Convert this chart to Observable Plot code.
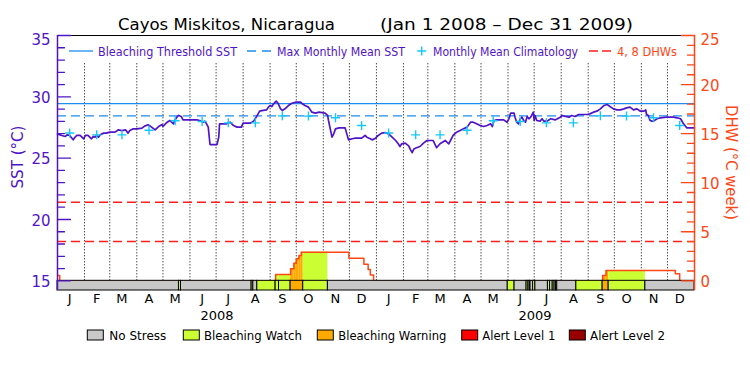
<!DOCTYPE html>
<html><head><meta charset="utf-8">
<script src="https://cdn.jsdelivr.net/npm/d3@7"></script>
<script src="https://cdn.jsdelivr.net/npm/@observablehq/plot@0.6"></script>
<style>body{margin:0;background:#fff} svg{display:block}</style>
</head><body><div id="chart"></div>
<script>
// ---- data (days since 2008-01-01) ----
const sstDays = [0,3,5,9,11,14,18,20,22,26,30,32,35,39,41,43,45,47,49,53,56,60,66,70,74,78,81,83,87,91,97,100,104,108,112,116,120,121,125,129,131,133,135,137,139,142,144,152,160,163,167,169,171,173,175,183,185,186,190,194,198,202,206,211,213,221,225,228,232,236,240,242,244,246,248,251,253,256,258,261,265,269,273,279,281,284,288,292,296,300,307,310,311,313,315,317,319,323,330,332,334,338,342,349,353,355,359,361,365,368,372,376,380,384,388,391,393,395,399,403,405,407,409,412,416,420,424,431,435,439,445,449,451,454,458,462,466,470,474,477,481,485,489,493,497,499,501,504,512,516,518,520,524,525,527,529,531,533,535,537,539,541,543,545,546,547,548,550,554,556,558,562,566,571,577,579,583,587,590,594,598,608,611,615,619,623,627,631,634,638,642,646,650,653,657,661,665,669,673,675,676,678,680,682,684,688,692,699,707,711,715,718,722,731];
const sstValues = [26.95,26.9,26.85,26.77,26.9,26.85,26.5,26.7,26.85,26.85,26.58,26.85,26.85,26.58,26.77,26.71,26.85,26.71,26.9,27.04,27.04,27.12,27.12,27.31,27.25,27.31,27.04,27.25,27.39,27.39,27.45,27.61,27.72,27.53,27.31,27.58,27.74,27.58,27.88,28.07,27.93,27.8,28.12,28.34,28.48,28.4,28.12,28.12,28.12,28.07,27.93,28.02,27.8,27.53,26.11,26.11,26.71,27.8,27.8,27.8,27.93,27.66,27.53,27.53,27.85,27.85,28.02,28.34,28.83,28.89,28.94,29.16,29.29,29.21,29.43,29.65,29.48,29.02,28.89,29.02,29.29,29.48,29.56,29.56,29.43,29.29,29.16,28.75,28.67,28.75,28.67,28.48,28.07,27.39,26.71,26.98,27.39,27.47,27.47,26.98,26.49,26.58,26.63,26.63,26.85,26.71,26.58,26.49,26.63,26.85,27.04,27.08,26.98,26.71,26.44,26.17,25.95,26.17,26.22,26.0,25.7,25.45,25.75,25.85,25.95,26.22,26.44,26.44,25.85,26.17,26.44,26.17,26.44,26.85,27.12,27.25,27.39,27.53,27.93,27.93,27.8,27.66,27.58,27.66,27.8,27.58,28.07,28.12,28.12,27.93,28.21,28.67,28.67,28.34,27.93,27.8,28.21,28.34,28.07,27.93,28.4,28.21,28.34,28.61,28.75,28.07,28.48,28.07,28.02,28.21,28.02,28.02,28.21,28.12,28.34,28.48,28.4,28.34,28.48,28.4,28.56,28.56,28.61,28.75,28.83,29.02,29.29,29.37,29.21,29.02,28.94,28.94,29.02,29.1,29.16,28.94,29.02,28.83,28.83,28.94,28.56,28.48,28.07,28.02,28.02,28.21,28.29,28.34,28.34,28.29,28.21,27.85,27.47,27.47];

const climValues = [27.05,26.9,26.9,27.28,28.05,27.99,27.88,27.88,28.45,28.43,28.3,27.66];
const years = [2008, 2009];
const monthLetters = ["J","F","M","A","M","J","J","A","S","O","N","D"];
const mmm = 28.45;
const threshold = 29.45;
const dhwRefLevels = [4, 8];

const dhwDays   = [0,   2.6, 250.3, 267.5, 271.3, 274,  277.1, 279.8, 334.4, 351.6, 356.5, 359, 362.7, 625.6, 629.5, 709,  714, 731];
const dhwValues = [0.54, 0,  0.64,  1.22,  1.8,   2.24, 2.58,  2.92,  2.3,   1.7,   1.15,  0.6, 0,     0.54,  1.05,  0.71, 0,   0];

const stressStart = [0,139.4,141.7,222.8,224.7,229.3,250.3,254.2,267.5,282,310.3,516.7,524.5,538.3,540.4,542,542.8,545.8,548.4,562.8,565.2,568.3,570.4,572,573.5,595.4,625.6,632.5,674.6];
const stressEnd   = [139.4,141.7,222.8,224.7,229.3,250.3,254.2,267.5,282,310.3,516.7,524.5,538.3,540.4,542,542.8,545.8,548.4,562.8,565.2,568.3,570.4,572,573.5,595.4,625.6,632.5,674.6,731];
const stressLevel = ["none","watch","none","watch","none","watch","watch","watch","warning","watch","none","watch","none","watch","none","watch","none","watch","none","watch","none","watch","none","watch","none","watch","warning","watch","none"];

const stressNames = ["No Stress","Bleaching Watch","Bleaching Warning","Alert Level 1","Alert Level 2"];
const stressKeys  = ["none","watch","warning","alert1","alert2"];
const stressColors = {none:"#c8c8c8", watch:"#ccff33", warning:"#ffaa00", alert1:"#ff0000", alert2:"#990000"};

const sstTicks = d3.range(15, 36);
const sstMajor = [15,20,25,30,35];
const dhwTicks = d3.range(0, 26);
const dhwMajor = [0,5,10,15,20,25];

// ---- helpers ----
const T0 = Date.UTC(2008,0,1);
const toDate = d => new Date(T0 + d*86400000);
const dhwToY = v => 15 + v*0.8;   // DHW axis 0..25 shares pixels with SST 15..35
const yMin = 14.21;

const purple = "#5014c8", blue = "#1e8cf0", cyan = "#14c8ff", orange = "#ff4614", red = "#ff1e1e";

const sst = sstDays.map((d,i) => ({date: toDate(d), v: sstValues[i]}));
const dhw = dhwDays.map((d,i) => ({date: toDate(d), v: dhwToY(dhwValues[i])}));
const clim = [];
years.forEach(y => climValues.forEach((v,m) => clim.push({date: new Date(Date.UTC(y,m,15)), v})));
const stress = stressStart.map((s,i) => ({x1: toDate(s), x2: toDate(stressEnd[i]), fill: stressColors[stressLevel[i]]}));
const fillRects = [];
stressStart.forEach((s,i) => {
  if (stressLevel[i] === "none") return;
  const e = stressEnd[i];
  for (let k = 0; k < dhwDays.length-1; k++) {
    const a = Math.max(s, dhwDays[k]), b = Math.min(e, dhwDays[k+1]);
    if (b > a && dhwValues[k] > 0) fillRects.push({x1: toDate(a), x2: toDate(b), y2: dhwToY(dhwValues[k]), fill: stressColors[stressLevel[i]]});
  }
});
const monthStarts = [];
const monthMids = [];
years.forEach(y => monthLetters.forEach((l,m) => {
  if (!(y === 2008 && m === 0)) monthStarts.push(new Date(Date.UTC(y,m,1)));
  monthMids.push({date: new Date(Date.UTC(y,m,15)), label: l});
}));
const yearMids = years.map(y => ({date: new Date(Date.UTC(y,6,2)), label: String(y)}));

const tickShape = {draw(ctx, l) { ctx.moveTo(0,0); ctx.lineTo(0,-l); }};
const plusSymbol = {draw(ctx, size) { const r = Math.sqrt(size/Math.PI); ctx.moveTo(-r,0); ctx.lineTo(r,0); ctx.moveTo(0,-r); ctx.lineTo(0,r); }};

const font = "DejaVu Sans";
const chart = Plot.plot({
  width: 750, height: 375,
  marginLeft: 57, marginRight: 56, marginTop: 35, marginBottom: 85,
  x: {type: "utc", domain: [toDate(0), toDate(731)], axis: null},
  y: {domain: [yMin, 35], axis: null},
  color: {type: "identity"},
  style: {fontFamily: font, background: "white", overflow: "visible"},
  marks: [
    Plot.ruleX(monthStarts, {x: d => d, y1: 15, y2: 32.7, stroke: "black", strokeDasharray: "1,2", strokeWidth: 1}),
    Plot.ruleY(dhwRefLevels, {y: d => dhwToY(d), stroke: red, strokeDasharray: "9,5", strokeWidth: 1.4}),
    Plot.ruleY([threshold], {stroke: blue, strokeWidth: 1.3}),
    Plot.ruleY([mmm], {stroke: blue, strokeDasharray: "9,5", strokeWidth: 1.3}),
    Plot.rect(fillRects, {x1: "x1", x2: "x2", y1: 15, y2: "y2", fill: "fill"}),
    Plot.line(dhw, {x: "date", y: "v", curve: "step-after", stroke: orange, strokeWidth: 1.5}),
    Plot.line(sst, {x: "date", y: "v", stroke: purple, strokeWidth: 1.7, strokeLinejoin: "round"}),
    Plot.dot(clim, {x: "date", y: "v", symbol: plusSymbol, r: 4.5, stroke: cyan, strokeWidth: 1.4}),
    Plot.rect(stress, {x1: "x1", x2: "x2", y1: yMin, y2: 15, fill: "fill", stroke: "black", strokeWidth: 1}),
    Plot.ruleY([35], {stroke: "black", strokeWidth: 1.2}),
    Plot.ruleX([toDate(0)], {stroke: purple, strokeWidth: 1.5}),
    Plot.ruleX([toDate(731)], {stroke: orange, strokeWidth: 1.5}),
    Plot.vector(sstTicks.filter(d => !sstMajor.includes(d)), {y: d => d, frameAnchor: "left", length: 7, rotate: 90, anchor: "start", shape: tickShape, stroke: purple, strokeWidth: 1.3}),
    Plot.vector(sstMajor, {y: d => d, frameAnchor: "left", length: 13, rotate: 90, anchor: "start", shape: tickShape, stroke: purple, strokeWidth: 1.3}),
    Plot.vector(dhwTicks.filter(d => !dhwMajor.includes(d)), {y: d => dhwToY(d), frameAnchor: "right", length: 7, rotate: -90, anchor: "start", shape: tickShape, stroke: orange, strokeWidth: 1.3}),
    Plot.vector(dhwMajor, {y: d => dhwToY(d), frameAnchor: "right", length: 13, rotate: -90, anchor: "start", shape: tickShape, stroke: orange, strokeWidth: 1.3}),
    Plot.text(sstMajor.filter(d => d < 35), {y: d => d, text: d => String(d), frameAnchor: "left", dx: -7, dy: 1.3, textAnchor: "end", fill: purple, fontSize: 15}),
    Plot.text(sstMajor.filter(d => d === 35), {y: d => d, text: d => String(d), frameAnchor: "left", dx: -7, dy: 5, textAnchor: "end", fill: purple, fontSize: 15}),
    Plot.text(dhwMajor.filter(d => d < 25), {y: d => dhwToY(d), text: d => String(d), frameAnchor: "right", dx: 6, dy: 1.3, textAnchor: "start", fill: orange, fontSize: 15}),
    Plot.text(dhwMajor.filter(d => d === 25), {y: d => dhwToY(d), text: d => String(d), frameAnchor: "right", dx: 6, dy: 5, textAnchor: "start", fill: orange, fontSize: 15}),
    Plot.text(monthMids, {x: "date", text: "label", frameAnchor: "bottom", dy: 8, lineAnchor: "middle", fill: "black", fontSize: 13}),
    Plot.text(yearMids, {x: "date", text: "label", frameAnchor: "bottom", dy: 25.5, lineAnchor: "middle", fill: "black", fontSize: 13})
  ]
});
document.getElementById("chart").appendChild(chart);

// ---- title, axis titles and legends ----
const svg = d3.select(chart);
function txt(x, y, s, len, color, size, extra) {
  const t = svg.append("text").attr("x", x).attr("y", y).text(s)
    .attr("text-anchor", "start")
    .attr("fill", color).attr("font-size", size).attr("font-family", font);
  if (len) t.attr("textLength", len).attr("lengthAdjust", "spacingAndGlyphs");
  if (extra) extra(t);
  return t;
}
txt(118, 30, "Cayos Miskitos, Nicaragua", 217, "black", 16);
txt(380, 30, "(Jan 1 2008 \u2013 Dec 31 2009)", 253, "black", 16);

txt(0, 0, "SST (\u00b0C)", 63, purple, 16, t => t.attr("text-anchor", "middle").attr("dominant-baseline", "central").attr("transform", "translate(17.5,157) rotate(-90)"));
txt(0, 0, "DHW (\u00b0C week)", 115, orange, 16, t => t.attr("text-anchor", "middle").attr("dominant-baseline", "central").attr("transform", "translate(731.5,162.5) rotate(90)"));

// top legend
const ly = 51;
svg.append("line").attr("x1", 69).attr("x2", 93).attr("y1", ly).attr("y2", ly).attr("stroke", blue).attr("stroke-width", 1.3);
txt(98, ly + 5, "Bleaching Threshold SST", 139, purple, 13);
svg.append("line").attr("x1", 247).attr("x2", 271).attr("y1", ly).attr("y2", ly).attr("stroke", blue).attr("stroke-width", 1.3).attr("stroke-dasharray", "9,6");
txt(277, ly + 5, "Max Monthly Mean SST", 128, purple, 13);
svg.append("path").attr("d", `M${421.7-4.5},${ly}h9M421.7,${ly-4.5}v9`).attr("stroke", cyan).attr("stroke-width", 1.4);
txt(433, ly + 5, "Monthly Mean Climatology", 145, purple, 13);
svg.append("line").attr("x1", 589).attr("x2", 611).attr("y1", ly).attr("y2", ly).attr("stroke", red).attr("stroke-width", 1.4).attr("stroke-dasharray", "9,4");
txt(617, ly + 5, "4, 8 DHWs", 60, orange, 13);

// bottom legend
const boxX = [87.3, 183.3, 317.3, 461.7, 569.3];
const textX = [109.3, 204, 338.3, 482.3, 590];
const textLen = [57, 98, 108, 73, 75];
stressNames.forEach((n, i) => {
  svg.append("rect").attr("x", boxX[i]).attr("y", 330).attr("width", 16).attr("height", 10)
    .attr("fill", stressColors[stressKeys[i]]).attr("stroke", "black").attr("stroke-width", 1);
  txt(textX[i], 340, n, textLen[i], "black", 13);
});
</script>
</body></html>
